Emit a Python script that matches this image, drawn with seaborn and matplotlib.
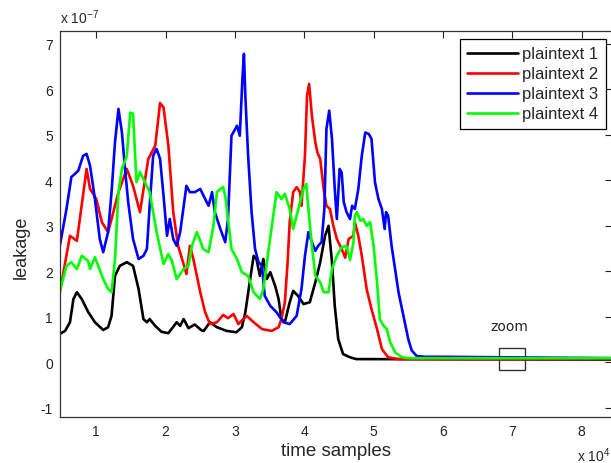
import matplotlib
matplotlib.use('Agg')
from matplotlib import pyplot as plt
from matplotlib.patches import Rectangle
import pandas as pd
import seaborn as sns

# time samples are in units of 1e4, leakage in units of 1e-7
x_pt1 = [0.47, 0.55, 0.62, 0.67, 0.72, 0.79, 0.885, 0.98, 1.10, 1.17, 1.22, 1.27, 1.34, 1.44, 1.53, 1.61,
         1.68, 1.73, 1.77, 1.85, 1.94, 2.04, 2.16, 2.21, 2.26, 2.33, 2.42, 2.52, 2.55, 2.64, 2.74, 2.88,
         3.02, 3.10, 3.15, 3.22, 3.27, 3.31, 3.36, 3.41, 3.46, 3.51, 3.58, 3.63, 3.67, 3.72, 3.79, 3.84,
         3.91, 3.99, 4.08, 4.16, 4.23, 4.30, 4.35, 4.40, 4.44, 4.49, 4.56, 4.66, 4.75, 8.5]
y_pt1 = [0.62, 0.69, 0.88, 1.39, 1.54, 1.39, 1.10, 0.88, 0.71, 0.77, 1.02, 1.90, 2.12, 2.20, 2.12, 1.61,
         0.95, 0.88, 0.95, 0.80, 0.67, 0.64, 0.88, 0.80, 0.95, 0.75, 0.83, 0.70, 0.69, 0.88, 0.77, 0.69,
         0.66, 0.77, 1.10, 1.83, 2.34, 2.27, 1.90, 2.27, 1.83, 1.98, 1.68, 1.39, 0.95, 0.88, 1.32, 1.57,
         1.46, 1.28, 1.32, 1.76, 2.20, 2.78, 3.00, 2.20, 1.24, 0.51, 0.18, 0.11, 0.07, 0.06]

x_pt2 = [0.47, 0.62, 0.72, 0.86, 0.91, 1.00, 1.08, 1.17, 1.22, 1.32, 1.44, 1.53, 1.63, 1.75, 1.85, 1.92,
         1.97, 2.04, 2.11, 2.18, 2.28, 2.30, 2.35, 2.40, 2.50, 2.57, 2.64, 2.74, 2.83, 2.90, 2.98, 3.05,
         3.10, 3.17, 3.27, 3.39, 3.53, 3.63, 3.67, 3.72, 3.76, 3.79, 3.84, 3.89, 3.94, 3.96, 4.01, 4.04,
         4.07, 4.11, 4.16, 4.19, 4.23, 4.28, 4.32, 4.37, 4.42, 4.47, 4.54, 4.59, 4.64, 4.71, 4.73, 4.78,
         4.83, 4.90, 4.97, 5.05, 5.12, 5.21, 5.36, 8.5]
y_pt2 = [1.50, 2.78, 2.67, 4.25, 3.81, 3.59, 3.08, 2.86, 3.15, 3.74, 4.25, 3.88, 3.30, 4.47, 4.76, 5.70,
         5.60, 4.76, 3.30, 2.56, 2.05, 1.94, 2.56, 2.27, 1.54, 1.10, 0.84, 0.88, 1.04, 0.97, 1.06, 0.84,
         0.92, 1.02, 0.88, 0.73, 0.69, 0.77, 0.95, 1.32, 2.20, 3.08, 3.74, 3.85, 3.74, 3.44, 4.54, 5.86,
         6.12, 5.42, 4.83, 4.61, 4.47, 3.81, 3.44, 3.37, 3.00, 2.71, 2.49, 2.30, 2.71, 2.78, 3.08, 2.78,
         2.34, 1.61, 1.17, 0.73, 0.29, 0.11, 0.07, 0.07]

x_pt3 = [0.47, 0.57, 0.64, 0.74, 0.81, 0.86, 0.91, 0.98, 1.05, 1.10, 1.17, 1.22, 1.27, 1.32, 1.37, 1.41,
         1.46, 1.53, 1.61, 1.68, 1.73, 1.77, 1.82, 1.87, 1.92, 1.97, 2.02, 2.06, 2.11, 2.16, 2.21, 2.30,
         2.35, 2.42, 2.50, 2.57, 2.62, 2.67, 2.71, 2.79, 2.86, 2.90, 2.95, 3.03, 3.07, 3.11, 3.13, 3.15,
         3.19, 3.24, 3.29, 3.34, 3.39, 3.43, 3.51, 3.60, 3.70, 3.79, 3.89, 3.96, 4.01, 4.06, 4.11, 4.16,
         4.20, 4.25, 4.29, 4.32, 4.36, 4.40, 4.44, 4.47, 4.51, 4.54, 4.57, 4.61, 4.66, 4.69, 4.73, 4.78,
         4.83, 4.88, 4.93, 4.97, 5.02, 5.07, 5.12, 5.16, 5.18, 5.21, 5.26, 5.31, 5.36, 5.41, 5.45, 5.50,
         5.55, 5.62, 5.74, 6.03, 8.5]
y_pt3 = [2.53, 3.37, 4.07, 4.21, 4.54, 4.58, 4.32, 3.59, 2.71, 2.42, 2.86, 3.74, 4.84, 5.57, 5.05, 4.32,
         3.52, 2.71, 2.27, 2.34, 2.49, 3.44, 4.54, 4.69, 4.47, 3.66, 2.78, 3.15, 2.71, 2.56, 2.86, 3.88,
         3.74, 3.74, 3.81, 3.59, 3.44, 3.74, 3.30, 2.93, 2.64, 3.15, 4.98, 5.20, 4.98, 6.30, 6.78, 5.86,
         4.54, 3.30, 2.49, 2.20, 2.12, 1.46, 1.24, 1.10, 0.88, 0.84, 1.02, 1.61, 2.34, 2.86, 2.64, 2.45,
         2.56, 2.64, 3.37, 5.13, 5.53, 4.91, 3.81, 3.15, 4.25, 4.17, 3.52, 3.30, 3.15, 3.44, 3.37, 3.81,
         4.54, 5.05, 5.02, 4.91, 3.96, 3.59, 3.37, 2.93, 3.30, 3.22, 2.56, 2.05, 1.54, 1.17, 0.88, 0.51,
         0.26, 0.14, 0.12, 0.12, 0.09]

x_pt4 = [0.47, 0.57, 0.64, 0.72, 0.79, 0.88, 0.91, 0.98, 1.10, 1.17, 1.22, 1.27, 1.32, 1.37, 1.44, 1.49,
         1.53, 1.58, 1.63, 1.68, 1.77, 1.87, 1.97, 2.04, 2.09, 2.16, 2.26, 2.33, 2.38, 2.45, 2.50, 2.54,
         2.62, 2.69, 2.74, 2.79, 2.83, 2.86, 2.90, 2.95, 3.03, 3.10, 3.19, 3.27, 3.36, 3.41, 3.50, 3.60,
         3.67, 3.72, 3.79, 3.84, 3.89, 3.94, 3.99, 4.03, 4.06, 4.11, 4.16, 4.23, 4.28, 4.35, 4.40, 4.47,
         4.54, 4.61, 4.66, 4.71, 4.73, 4.76, 4.81, 4.85, 4.90, 4.95, 5.00, 5.05, 5.09, 5.14, 5.19, 5.24,
         5.31, 5.41, 5.50, 8.5]
y_pt4 = [1.54, 2.12, 2.20, 2.05, 2.34, 2.23, 2.05, 2.31, 1.83, 1.61, 1.54, 2.27, 3.74, 4.25, 4.54, 5.49,
         5.46, 3.96, 4.18, 4.03, 3.74, 2.86, 2.16, 2.38, 2.23, 1.83, 2.05, 2.12, 2.56, 2.86, 2.67, 2.49,
         2.42, 3.00, 3.74, 3.81, 3.85, 3.66, 3.15, 2.49, 2.27, 1.98, 1.90, 1.54, 1.39, 1.61, 2.64, 3.74,
         3.59, 3.70, 3.37, 2.93, 3.22, 3.52, 3.81, 3.92, 3.37, 2.56, 1.90, 1.76, 1.54, 1.54, 2.05, 2.34,
         2.53, 2.56, 2.25, 2.64, 3.22, 3.30, 3.11, 3.15, 3.00, 3.08, 2.56, 1.76, 0.95, 0.81, 0.73, 0.44,
         0.22, 0.11, 0.09, 0.09]

labels = ['plaintext 1', 'plaintext 2', 'plaintext 3', 'plaintext 4']
colors = ['#000000', '#ff0000', '#0000ff', '#00ff00']
series = [(x_pt1, y_pt1), (x_pt2, y_pt2), (x_pt3, y_pt3), (x_pt4, y_pt4)]

sns.set_style('white')
plt.rcParams['font.family'] = ['Liberation Sans', 'DejaVu Sans']
plt.rcParams['mathtext.fontset'] = 'custom'
plt.rcParams['mathtext.rm'] = 'Liberation Sans'
plt.rcParams['mathtext.default'] = 'rm'
plt.rcParams['axes.unicode_minus'] = False

fig = plt.figure(figsize=(6.11, 4.64), dpi=100)
ax = fig.add_axes([0.0977, 0.0998, 0.904, 0.832])

for (xs, ys), lab, col in zip(series, labels, colors):
    df = pd.DataFrame({'t': xs, 'leak': ys})
    sns.lineplot(data=df, x='t', y='leak', color=col, label=lab, lw=1.9,
                 estimator=None, sort=False, ax=ax)

ax.set_xlim(0.472, 8.44)
ax.set_ylim(-1.196, 7.29)
ax.set_xticks(range(1, 9))
ax.set_yticks(range(-1, 8))
ax.tick_params(direction='in', top=True, right=True, length=5, width=0.8,
               labelsize=10, colors='#222222', pad=5)
for s in ax.spines.values():
    s.set_color('#333333')
    s.set_linewidth(0.9)

ax.set_xlabel('time samples', fontsize=13.5)
ax.set_ylabel('leakage', fontsize=13)
ax.xaxis.set_label_coords(0.5, -0.066)
ax.yaxis.set_label_coords(-0.054, 0.442)

ax.text(0.0, 1.035, r'x 10$^{-7}$', transform=ax.transAxes, fontsize=10, va='center', ha='left')
ax.text(0.937, -0.099, r'x 10$^{4}$', transform=ax.transAxes, fontsize=10, va='center', ha='left')

# zoom marker
ax.add_patch(Rectangle((6.81, -0.17), 0.38, 0.48, fill=False, ec='#333333', lw=1))
ax.text(6.96, 0.8, 'zoom', ha='center', va='center', fontsize=10, family='DejaVu Sans')

leg = ax.legend(loc='upper right', bbox_to_anchor=(0.989, 0.9785), borderaxespad=0,
                fancybox=False, framealpha=1, edgecolor='black', fontsize=12,
                handlelength=3.05, handletextpad=0.24, labelspacing=0.3, borderpad=0.45)
leg.get_frame().set_linewidth(0.9)

plt.savefig('out.png', dpi=100)
